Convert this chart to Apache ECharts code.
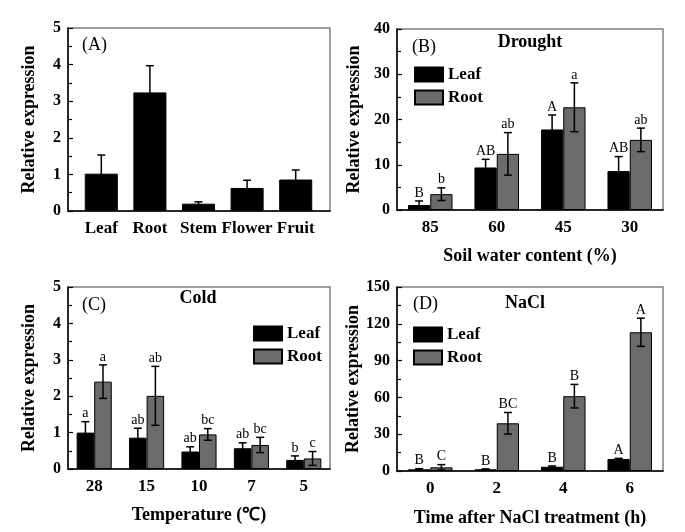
<!DOCTYPE html>
<html>
<head>
<meta charset="utf-8">
<script src="https://cdn.jsdelivr.net/npm/echarts@6/dist/echarts.min.js"></script>
<style>
html,body{margin:0;padding:0;background:#fff;}
#chart{width:685px;height:532px;}
</style>
</head>
<body>
<div id="chart"></div>
<script>
// ---------- DATA ----------
const aCategories = ['Leaf', 'Root', 'Stem', 'Flower', 'Fruit'];
const aValues = [1.02, 3.24, 0.20, 0.63, 0.86];
const aErrors = [0.51, 0.73, 0.05, 0.21, 0.26];

const bCategories = ['85', '60', '45', '30'];
const bLeaf = [1.1, 9.4, 17.8, 8.6];
const bLeafErr = [0.9, 1.8, 3.2, 3.2];
const bLeafLetters = ['B', 'AB', 'A', 'AB'];
const bRoot = [3.5, 12.4, 22.7, 15.5];
const bRootErr = [1.4, 4.7, 5.4, 2.6];
const bRootLetters = ['b', 'ab', 'a', 'ab'];

const cCategories = ['28', '15', '10', '7', '5'];
const cLeaf = [1.00, 0.86, 0.48, 0.57, 0.25];
const cLeafErr = [0.30, 0.26, 0.13, 0.15, 0.11];
const cLeafLetters = ['a', 'ab', 'ab', 'ab', 'b'];
const cRoot = [2.40, 2.01, 0.95, 0.66, 0.29];
const cRootErr = [0.46, 0.81, 0.16, 0.21, 0.19];
const cRootLetters = ['a', 'ab', 'bc', 'bc', 'c'];

const dCategories = ['0', '2', '4', '6'];
const dLeaf = [1.4, 1.4, 3.5, 9.8];
const dLeafErr = [0.5, 0.3, 0.6, 0.5];
const dLeafLetters = ['B', 'B', 'B', 'A'];
const dRoot = [3.0, 38.9, 61.0, 113.1];
const dRootErr = [2.2, 8.8, 9.6, 11.5];
const dRootLetters = ['C', 'BC', 'B', 'A'];

// ---------- STYLE ----------
const FONT = 'Liberation Serif, Times New Roman, serif';
const LEAF_COLOR = '#000000';
const ROOT_COLOR = '#6b6b6b';

function errSeries(name, xi, yi, values, errs, letters, offset, gapFrac, nBars) {
  return {
    type: 'custom',
    name: name,
    xAxisIndex: xi,
    yAxisIndex: yi,
    z: 10,
    silent: true,
    encode: { x: 0, y: 1 },
    data: values.map((v, i) => [i, v, errs[i]]),
    renderItem: function (params, api) {
      const i = api.value(0), v = api.value(1), sd = api.value(2);
      const c = api.coord([i, v]);
      const catW = api.size([1, 0])[0];
      const barW = catW * (1 - gapFrac) / nBars;
      const x = c[0] + offset * barW;
      const top = api.coord([i, v + sd])[1];
      const bot = api.coord([i, Math.max(v - sd, 0)])[1];
      const cap = 4;
      const ls = { stroke: '#000', lineWidth: 1.5 };
      const children = [
        { type: 'line', shape: { x1: x, y1: top, x2: x, y2: bot }, style: ls },
        { type: 'line', shape: { x1: x - cap, y1: top, x2: x + cap, y2: top }, style: ls },
        { type: 'line', shape: { x1: x - cap, y1: bot, x2: x + cap, y2: bot }, style: ls }
      ];
      if (letters) {
        children.push({
          type: 'text',
          style: {
            text: letters[params.dataIndex], x: x, y: top - 1,
            textAlign: 'center', textVerticalAlign: 'bottom',
            font: '14px ' + FONT, fill: '#000'
          }
        });
      }
      return { type: 'group', children: children };
    }
  };
}

function barSeries(name, xi, yi, data, color, gap) {
  return {
    type: 'bar', name: name, xAxisIndex: xi, yAxisIndex: yi, data: data,
    barGap: '0%', barCategoryGap: gap,
    itemStyle: { color: color, borderColor: '#000', borderWidth: 1 },
    silent: true
  };
}

function yAxis(gi, max, interval, show) {
  return {
    type: 'value', gridIndex: gi, min: 0, max: max, interval: interval, show: show,
    axisLine: { show: true, lineStyle: { color: '#000', width: 1.5 } },
    axisTick: { show: true, inside: true, length: 5, lineStyle: { color: '#000', width: 1.2 } },
    minorTick: { show: true, splitNumber: 2, length: 4, lineStyle: { color: '#000', width: 1.2 } },
    splitLine: { show: false },
    axisLabel: { fontFamily: FONT, fontWeight: 'bold', fontSize: 16, color: '#000', margin: 7 },
    nameLocation: 'middle', name: 'Relative expression',
    nameTextStyle: { fontFamily: FONT, fontWeight: 'bold', fontSize: 18, color: '#000' }
  };
}

function xAxis(gi, cats, name, gap, showLine) {
  return {
    type: 'category', gridIndex: gi, data: cats,
    axisLine: { show: showLine, lineStyle: { color: '#000', width: 1.5 } },
    axisTick: { show: false },
    axisLabel: { fontFamily: FONT, fontWeight: 'bold', fontSize: 17, color: '#000', margin: 9, interval: 0 },
    name: name, nameLocation: 'middle', nameGap: gap,
    nameTextStyle: { fontFamily: FONT, fontWeight: 'bold', fontSize: 18, color: '#000' }
  };
}

const gridStyle = { show: true, borderColor: '#808080', borderWidth: 1.5, containLabel: false };

const legendBase = {
  data: ['Leaf', 'Root'], orient: 'vertical', icon: 'rect', padding: 0,
  itemWidth: 28, itemHeight: 14, itemGap: 6, selectedMode: false,
  textStyle: { fontFamily: FONT, fontWeight: 'bold', fontSize: 17, color: '#000' }
};

const yA = yAxis(0, 5, 1, true); yA.nameGap = 30;
const yAin = yAxis(1, 5, 1, false);
const yB = yAxis(2, 40, 10, true); yB.nameGap = 34;
const yC = yAxis(3, 5, 1, true); yC.nameGap = 30;
const yD = yAxis(4, 150, 30, true); yD.nameGap = 34;

function panelText(t, x, y, bold) {
  return {
    type: 'text', x: x, y: y, silent: true,
    style: {
      text: t, textAlign: bold ? 'center' : 'left', textVerticalAlign: 'middle',
      font: (bold ? 'bold ' : '') + '18px ' + FONT, fill: '#000'
    }
  };
}

const option = {
  animation: false,
  backgroundColor: '#fff',
  grid: [
    Object.assign({ left: 68, top: 28, width: 262, height: 183 }, gridStyle),
    { left: 77, top: 28, width: 243, height: 183, show: false },
    Object.assign({ left: 397, top: 29, width: 266, height: 181 }, gridStyle),
    Object.assign({ left: 68, top: 287, width: 262, height: 182 }, gridStyle),
    Object.assign({ left: 397, top: 287, width: 266, height: 184 }, gridStyle)
  ],
  xAxis: [
    { type: 'value', gridIndex: 0, min: 0, max: 1,
      axisLine: { show: true, onZero: false, lineStyle: { color: '#000', width: 1.5 } },
      axisTick: { show: false }, axisLabel: { show: false }, splitLine: { show: false } },
    xAxis(1, aCategories, '', 30, false),
    xAxis(2, bCategories, 'Soil water content (%)', 37, true),
    xAxis(3, cCategories, 'Temperature (\u2103)', 37, true),
    xAxis(4, dCategories, 'Time after NaCl treatment (h)', 38, true)
  ],
  yAxis: [yA, yAin, yB, yC, yD],
  legend: [
    Object.assign({ left: 414, top: 66 }, legendBase),
    Object.assign({ left: 253, top: 325 }, legendBase),
    Object.assign({ left: 413, top: 326 }, legendBase)
  ],
  graphic: [
    panelText('(A)', 82, 45, false),
    panelText('(B)', 412, 47, false),
    panelText('Drought', 530, 42, true),
    panelText('(C)', 82, 305, false),
    panelText('Cold', 198, 298, true),
    panelText('(D)', 413, 304, false),
    panelText('NaCl', 525, 303, true)
  ],
  series: [
    barSeries('A', 1, 1, aValues, LEAF_COLOR, '32%'),
    errSeries('errA', 1, 1, aValues, aErrors, null, 0, 0.32, 1),

    barSeries('Leaf', 2, 2, bLeaf, LEAF_COLOR, '33%'),
    barSeries('Root', 2, 2, bRoot, ROOT_COLOR, '33%'),
    errSeries('errBL', 2, 2, bLeaf, bLeafErr, bLeafLetters, -0.5, 0.33, 2),
    errSeries('errBR', 2, 2, bRoot, bRootErr, bRootLetters, 0.5, 0.33, 2),

    barSeries('Leaf', 3, 3, cLeaf, LEAF_COLOR, '33%'),
    barSeries('Root', 3, 3, cRoot, ROOT_COLOR, '33%'),
    errSeries('errCL', 3, 3, cLeaf, cLeafErr, cLeafLetters, -0.5, 0.33, 2),
    errSeries('errCR', 3, 3, cRoot, cRootErr, cRootLetters, 0.5, 0.33, 2),

    barSeries('Leaf', 4, 4, dLeaf, LEAF_COLOR, '33%'),
    barSeries('Root', 4, 4, dRoot, ROOT_COLOR, '33%'),
    errSeries('errDL', 4, 4, dLeaf, dLeafErr, dLeafLetters, -0.5, 0.33, 2),
    errSeries('errDR', 4, 4, dRoot, dRootErr, dRootLetters, 0.5, 0.33, 2)
  ]
};

const chart = echarts.init(document.getElementById('chart'), null, { renderer: 'canvas' });
chart.setOption(option);
</script>
</body>
</html>
